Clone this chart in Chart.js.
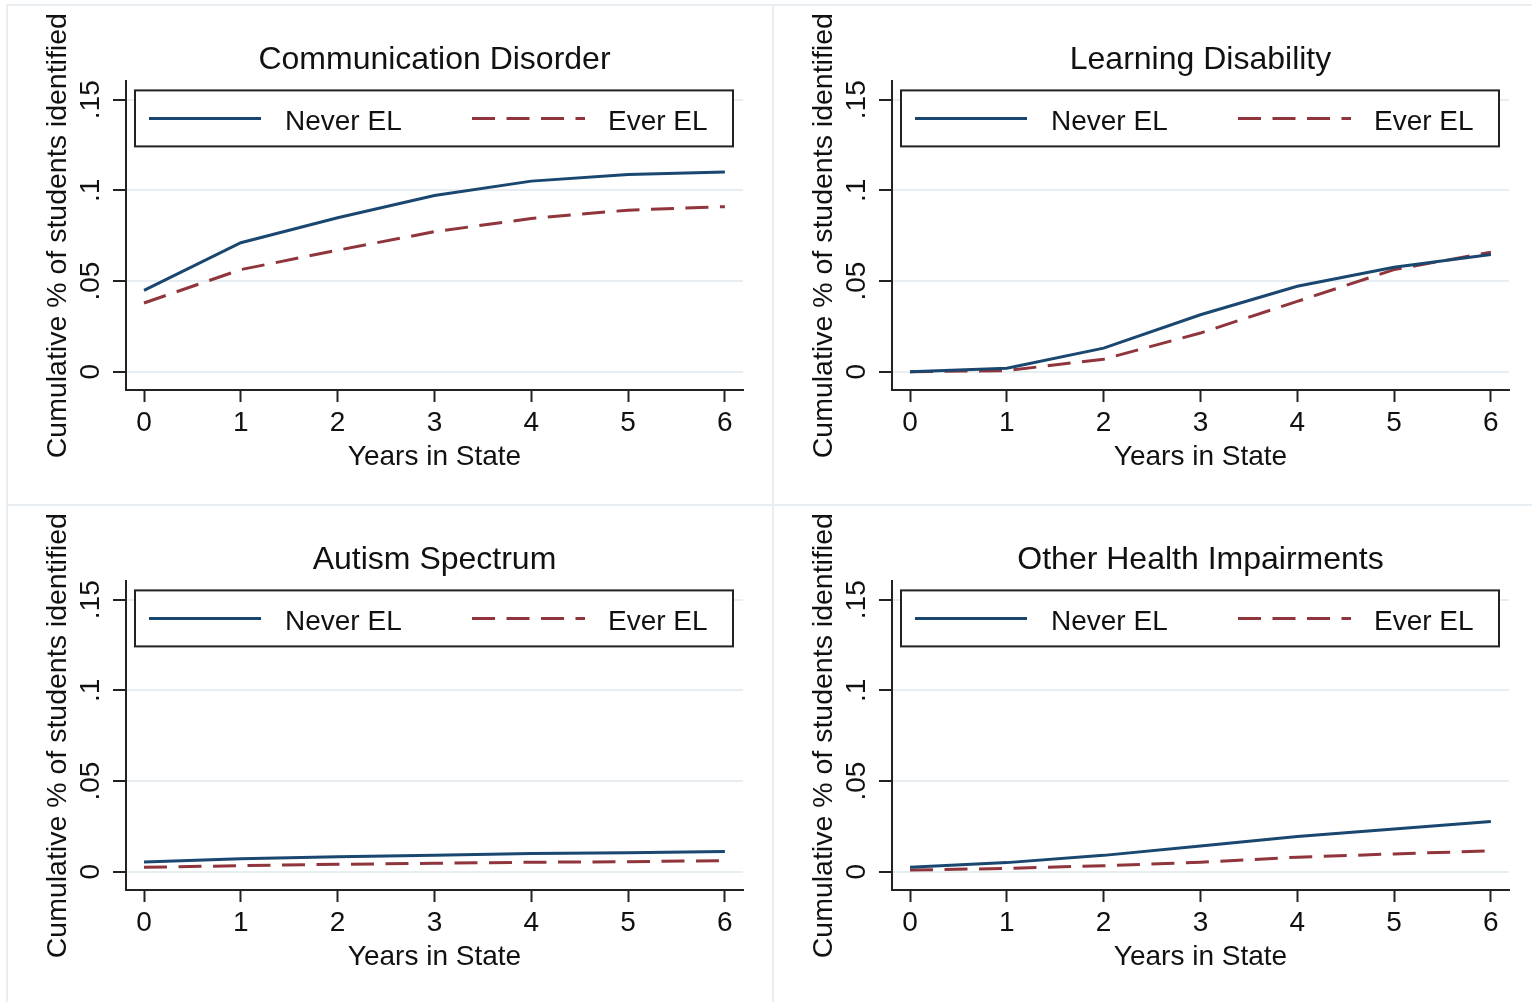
<!DOCTYPE html>
<html>
<head>
<meta charset="utf-8">
<script src="https://cdn.jsdelivr.net/npm/chart.js@4.4.1/dist/chart.umd.min.js"></script>
<style>
  html, body { margin: 0; padding: 0; background: #fff; overflow: hidden; }
  body { width: 1532px; height: 1002px; position: relative; }
  .panel {
    position: absolute;
    width: 767px;
    height: 504px;
    box-sizing: border-box;
    border-top: 2px solid #e8eef1;
    border-left: 2px solid #e8eef1;
    background: #fff;
  }
  .panel canvas { display: block; }
</style>
</head>
<body>
<div class="panel" style="left:6px; top:4px;"><canvas id="commChart" width="763" height="500"></canvas></div>
<div class="panel" style="left:772px; top:4px;"><canvas id="learnChart" width="763" height="500"></canvas></div>
<div class="panel" style="left:6px; top:504px;"><canvas id="autismChart" width="763" height="500"></canvas></div>
<div class="panel" style="left:772px; top:504px;"><canvas id="ohiChart" width="763" height="500"></canvas></div>
<script>
// years since arrival, shared by all four panels
const years = [0, 1, 2, 3, 4, 5, 6];
const yTicks = [0, 0.05, 0.1, 0.15];
const yTickLabels = ['0', '.05', '.1', '.15'];
const seriesNames = ['Never EL', 'Ever EL'];

// cumulative share identified, by disability category
const commNever = [0.0448, 0.0711, 0.0849, 0.0972, 0.1051, 0.1088, 0.1101];
const commEver = [0.0379, 0.0563, 0.0670, 0.0772, 0.0845, 0.0891, 0.0910];

const learnNever = [0.0000, 0.0019, 0.0130, 0.0314, 0.0471, 0.0576, 0.0646];
const learnEver = [0.0000, 0.0006, 0.0069, 0.0213, 0.0388, 0.0563, 0.0659];

const autismNever = [0.0054, 0.0072, 0.0083, 0.0090, 0.0100, 0.0105, 0.0111];
const autismEver = [0.0024, 0.0033, 0.0041, 0.0046, 0.0052, 0.0055, 0.0061];

const ohiNever = [0.0024, 0.0050, 0.0090, 0.0142, 0.0194, 0.0236, 0.0277];
const ohiEver = [0.0009, 0.0018, 0.0033, 0.0052, 0.0080, 0.0098, 0.0115];

const navy = '#1a476f';
const maroon = '#90353b';
const ink = '#111111';

Chart.defaults.font.family = '"Liberation Sans", Arial, Helvetica, sans-serif';
Chart.defaults.color = ink;

// boxed legend sitting inside the top of the plot region
const boxLegend = {
    id: 'boxLegend',
    afterDatasetsDraw(chart) {
        const ctx = chart.ctx;
        const area = chart.chartArea;
        const left = area.left + 9;
        const right = area.right - 10;
        const top = area.top + 9;
        const bottom = top + 56;
        const mid = (top + bottom) / 2;

        ctx.save();
        ctx.fillStyle = '#fff';
        ctx.fillRect(left, top, right - left, bottom - top);
        ctx.strokeStyle = '#222';
        ctx.lineWidth = 2;
        ctx.strokeRect(left, top, right - left, bottom - top);

        const slots = [
            { x0: 14, x1: 126, tx: 150 },
            { x0: 337, x1: 450, tx: 473 }
        ];
        chart.data.datasets.forEach((ds, i) => {
            const s = slots[i];
            ctx.beginPath();
            ctx.setLineDash(ds.borderDash || []);
            ctx.strokeStyle = ds.borderColor;
            ctx.lineWidth = ds.borderWidth;
            ctx.moveTo(left + s.x0, mid);
            ctx.lineTo(left + s.x1, mid);
            ctx.stroke();
            ctx.setLineDash([]);
            ctx.fillStyle = ink;
            ctx.font = '28px "Liberation Sans", Arial, sans-serif';
            ctx.textAlign = 'left';
            ctx.textBaseline = 'middle';
            ctx.fillText(ds.label, left + s.tx, mid + 4);
        });
        ctx.restore();
    }
};

function makePanel(id, title, never, ever) {
    const ctx = document.getElementById(id);
    return new Chart(ctx, {
        type: 'line',
        data: {
            datasets: [{
                label: seriesNames[0],
                data: years.map((x, i) => ({ x: x, y: never[i] })),
                borderColor: navy,
                borderWidth: 3,
                pointRadius: 0,
                tension: 0
            }, {
                label: seriesNames[1],
                data: years.map((x, i) => ({ x: x, y: ever[i] })),
                borderColor: maroon,
                borderWidth: 3,
                borderDash: [23, 11.5],
                pointRadius: 0,
                tension: 0
            }]
        },
        options: {
            responsive: false,
            animation: false,
            devicePixelRatio: 1,
            layout: { padding: { left: 0, right: 28, top: 0, bottom: 0 } },
            plugins: {
                legend: { display: false },
                tooltip: { enabled: false },
                title: {
                    display: true,
                    text: title,
                    fullSize: false,
                    color: ink,
                    font: { size: 32, weight: 'normal', lineHeight: 1.2 },
                    padding: { top: 35, bottom: 2 }
                }
            },
            scales: {
                x: {
                    type: 'linear',
                    min: -0.186,
                    max: 6.187,
                    afterBuildTicks: (scale) => {
                        scale.ticks = years.map(v => ({ value: v }));
                    },
                    afterFit: (scale) => { scale.height = 116; },
                    ticks: {
                        autoSkip: false,
                        maxRotation: 0,
                        padding: 4,
                        color: ink,
                        font: { size: 28 },
                        callback: (v) => String(v)
                    },
                    grid: {
                        drawOnChartArea: false,
                        drawTicks: true,
                        tickLength: 12,
                        tickColor: '#222',
                        tickWidth: 2
                    },
                    border: { display: true, color: '#222', width: 2 },
                    title: {
                        display: true,
                        text: 'Years in State',
                        color: ink,
                        font: { size: 28, lineHeight: 1.2 },
                        padding: { top: 0, bottom: 32 }
                    }
                },
                y: {
                    type: 'linear',
                    min: -0.0101,
                    max: 0.1601,
                    afterBuildTicks: (scale) => {
                        scale.ticks = yTicks.map(v => ({ value: v }));
                    },
                    afterFit: (scale) => { scale.width = 118; },
                    ticks: {
                        autoSkip: false,
                        minRotation: 90,
                        maxRotation: 90,
                        crossAlign: 'center',
                        padding: 2,
                        color: ink,
                        font: { size: 28 },
                        callback: (v) => yTickLabels[yTicks.indexOf(v)]
                    },
                    grid: {
                        color: '#e6eef1',
                        lineWidth: 2,
                        drawTicks: true,
                        tickLength: 13,
                        tickColor: '#222',
                        tickWidth: 2
                    },
                    border: { display: true, color: '#222', width: 2 },
                    title: {
                        display: true,
                        text: 'Cumulative % of students identified',
                        color: ink,
                        font: { size: 28.5, lineHeight: 1.2 },
                        padding: { top: 33, bottom: 0 }
                    }
                }
            }
        },
        plugins: [boxLegend]
    });
}

makePanel('commChart', 'Communication Disorder', commNever, commEver);
makePanel('learnChart', 'Learning Disability', learnNever, learnEver);
makePanel('autismChart', 'Autism Spectrum', autismNever, autismEver);
makePanel('ohiChart', 'Other Health Impairments', ohiNever, ohiEver);
</script>
</body>
</html>
